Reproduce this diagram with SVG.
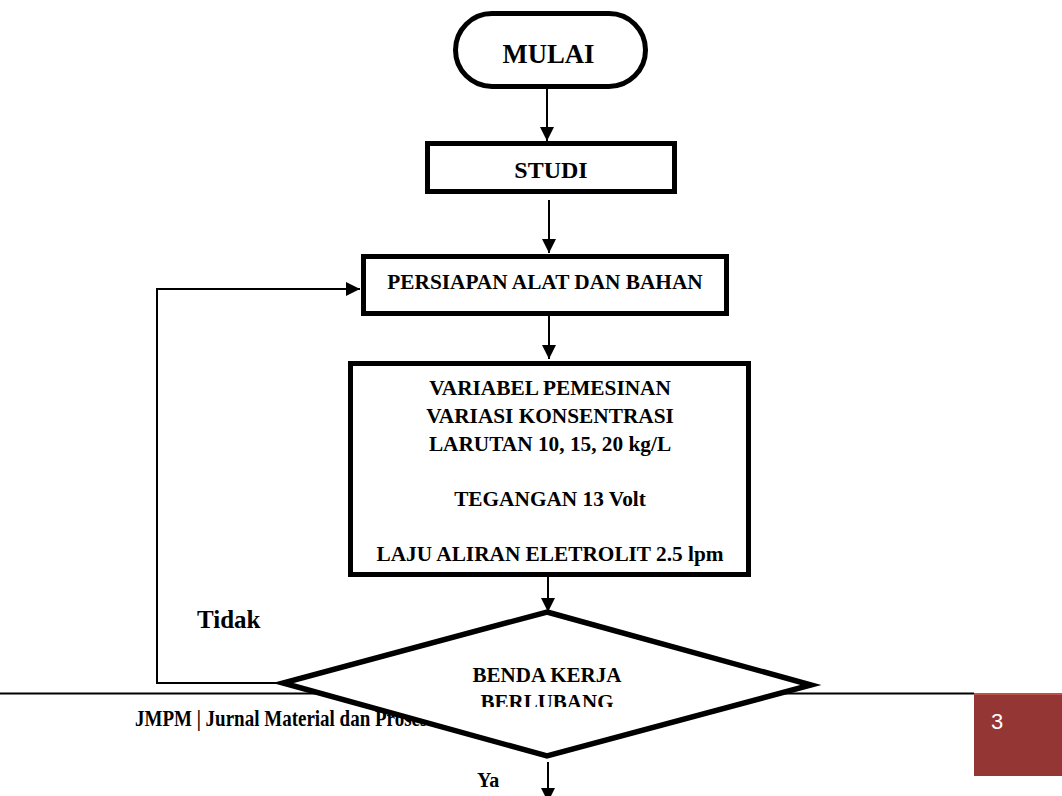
<svg xmlns="http://www.w3.org/2000/svg" width="1062" height="796" viewBox="0 0 1062 796">
<defs>
<style>
.box{fill:#fff;stroke:#000;stroke-width:5}
.t{font-family:"Liberation Serif","Times New Roman",serif;font-weight:bold;fill:#000;text-anchor:middle}
.c{stroke:#000;stroke-width:2;fill:none}
</style>
<marker id="ah" viewBox="0 0 14 14" refX="14" refY="7" markerWidth="14" markerHeight="14" markerUnits="userSpaceOnUse" orient="auto">
<path d="M0,0 L14,7 L0,14 Z" fill="#000"/>
</marker>
<clipPath id="dclip"><rect x="400" y="640" width="300" height="67"/></clipPath>
</defs>
<rect width="1062" height="796" fill="#fff"/>
<g id="footer">
<line x1="0" y1="693.5" x2="974" y2="693.5" stroke="#000" stroke-width="2"/>
<rect x="974" y="693" width="88" height="83" fill="#943634"/>
<rect x="974" y="693" width="88" height="2" fill="#c0504d"/>
<text x="135" y="726" font-family="'Liberation Serif','Times New Roman',serif" font-weight="bold" font-size="19" transform="translate(0,726) scale(1,1.25) translate(0,-726)">JMPM | Jurnal Material dan Proses</text>
<text x="991" y="729" font-family="'Liberation Sans',Arial,sans-serif" font-size="22" fill="#fff">3</text>
</g>
<g id="connectors">
<line class="c" x1="547" y1="89" x2="547" y2="141" marker-end="url(#ah)"/>
<line class="c" x1="549" y1="200" x2="549" y2="253" marker-end="url(#ah)"/>
<line class="c" x1="549" y1="316" x2="549" y2="359" marker-end="url(#ah)"/>
<line class="c" x1="548" y1="577" x2="548" y2="612" marker-end="url(#ah)"/>
<line class="c" x1="548" y1="762" x2="548" y2="802" marker-end="url(#ah)"/>
<polyline class="c" points="285,683 157,683 157,289 360,289" marker-end="url(#ah)"/>
</g>
<g id="mulai">
<rect class="box" x="455.5" y="13.5" width="190" height="73" rx="36.5"/>
<text class="t" x="548.5" y="63" font-size="26.7">MULAI</text>
</g>
<g id="studi">
<rect class="box" x="427.5" y="143.5" width="247" height="48"/>
<text class="t" x="551" y="178" font-size="24">STUDI</text>
</g>
<g id="persiapan">
<rect class="box" x="363.5" y="256.5" width="363" height="57"/>
<text class="t" x="545" y="289" font-size="21.3">PERSIAPAN ALAT DAN BAHAN</text>
</g>
<g id="variabel">
<rect class="box" x="350.5" y="363.5" width="398" height="211"/>
<text class="t" x="550" y="395" font-size="21.3">VARIABEL PEMESINAN</text>
<text class="t" x="550" y="423" font-size="21.3">VARIASI KONSENTRASI</text>
<text class="t" x="550" y="451" font-size="21.3">LARUTAN 10, 15, 20 kg/L</text>
<text class="t" x="550" y="506" font-size="21.3">TEGANGAN 13 Volt</text>
<text class="t" x="550" y="561" font-size="21.3">LAJU ALIRAN ELETROLIT 2.5 lpm</text>
</g>
<g id="keputusan">
<polygon points="547,612 811,685 547,756 283,683" fill="#fff" stroke="#000" stroke-width="5.5" stroke-linejoin="miter"/>
<g clip-path="url(#dclip)">
<text class="t" x="547" y="682" font-size="21">BENDA KERJA</text>
<text class="t" x="547" y="709" font-size="21">BERLUBANG</text>
</g>
</g>
<g id="labels">
<text x="197" y="628" font-family="'Liberation Serif','Times New Roman',serif" font-weight="bold" font-size="25">Tidak</text>
<text x="477" y="787" font-family="'Liberation Serif','Times New Roman',serif" font-weight="bold" font-size="20">Ya</text>
</g>
</svg>
